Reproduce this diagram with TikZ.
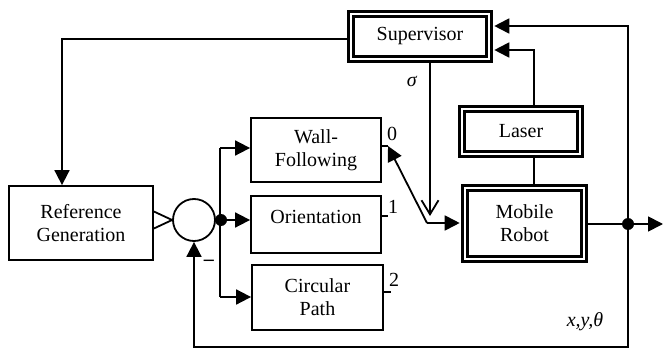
\documentclass[tikz,border=0pt]{standalone}
\usepackage{fontspec}
\setmainfont{Liberation Serif}
\usetikzlibrary{arrows.meta}
\begin{document}
\begin{tikzpicture}[x=1pt,y=-1pt,
  font=\fontsize{20}{23}\selectfont,
  box/.style={draw,line width=1.8pt,inner sep=0pt,align=center},
  dblbox/.style={draw,double,double distance=2.2pt,line width=2.8pt,inner sep=0pt,align=center},
  wire/.style={line width=1.8pt},
  arr/.style={wire,-{Triangle[length=15pt,width=15pt]}},
  dot/.style={circle,fill,inner sep=0pt,minimum size=12pt}]
\useasboundingbox (0,0) rectangle (664,350);

% blocks
\node[dblbox,minimum width=138pt,minimum height=45pt] (sup) at (420,36.5) {Supervisor};
\node[dblbox,minimum width=118pt,minimum height=45pt] (laser) at (521,131.5) {Laser};
\node[dblbox,minimum width=119pt,minimum height=71pt] (robot) at (524.5,223.5) {Mobile\\Robot};
\node[box,minimum width=144pt,minimum height=74pt] (ref) at (81,223) {Reference\\Generation};
\node[box,minimum width=130pt,minimum height=64pt] (wall) at (316,150) {Wall-\\Following};
\node[box,minimum width=130pt,minimum height=57pt] (ori) at (316,224.5) {};
\node (oritxt) at (316,217) {Orientation};
\node[box,minimum width=131pt,minimum height=65pt] (circ) at (317.5,297.5) {Circular\\Path};
\node[draw,circle,line width=1.8pt,minimum size=42pt,inner sep=0pt] (sum) at (194,220) {};

% reference into the summing junction (open wedge)
\draw[wire,line join=miter] ([yshift=8.5pt]ref.east |- sum.west) -- (sum.west)
  -- ([yshift=-8.5pt]ref.east |- sum.west);

% branch to the three controllers
\node[dot] (jn) at (221,220) {};
\coordinate (bt) at (220,148);
\coordinate (bb) at (220,297);
\draw[wire] (sum.east) -- (jn);
\draw[wire] (bt) -- (bb);
\draw[arr] (bt) -- (bt -| wall.west);
\draw[arr] (jn) -- (jn -| ori.west);
\draw[arr] (bb) -- (bb -| circ.west);

% switch contacts
\coordinate (t0) at (388,146);
\coordinate (t1) at (388,216);
\coordinate (t2) at (391,292);
\draw[wire] (t0 -| wall.east) -- (t0);
\draw[wire] (t1 -| ori.east) -- (t1);
\draw[wire] (t2 -| circ.east) -- (t2);
\node (l0) at (392,134) {0};
\node (l1) at (393,207) {1};
\node (l2) at (394,280) {2};

\coordinate (sw) at (427,223);
\draw[arr] (sw) -- (t0);
\draw[arr,shorten >=3.9pt] (sw) -- (sw -| robot.west);

% supervisor selects the controller
\coordinate (vtip) at (430,216);
\draw[wire,-{Straight Barb[length=14pt,width=17pt]}] ([xshift=10pt]sup.south) -- (vtip);
\node (sig) at (412,81) {\textit{σ}};

% supervisor drives the reference generator
\draw[arr] ([yshift=-2.5pt]sup.west) -| ([xshift=-19pt]ref.north);

% laser and robot
\draw[wire] ([xshift=13pt]laser.south) -- ([xshift=9.5pt]robot.north);
\draw[arr,shorten >=3.9pt] ([xshift=13pt]laser.north) |- ([yshift=-13.5pt]sup.east);

% robot output and feedback
\node[dot] (od) at (628,224) {};
\coordinate (out) at (663,224);
\coordinate (fb) at (628,347);
\draw[wire] (robot.east |- od) -- (od);
\draw[arr] (od) -- (out);
\draw[arr,shorten >=3.9pt] (od) |- ([yshift=10.5pt]sup.east);
\draw[arr] (od) -- (fb) -| (sum.south);
\node (xyt) at (585,322) {\textit{x,y,θ}};
\node (minus) at (209,263) {\textbf{–}};
\end{tikzpicture}
\end{document}
